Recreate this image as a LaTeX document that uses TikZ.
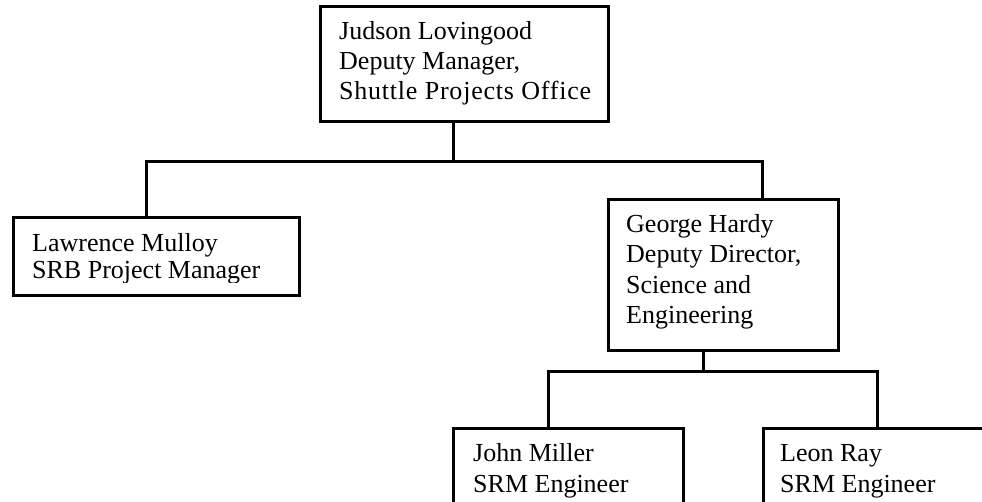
\documentclass[tikz,border=0pt]{standalone}
\usepackage{fontspec}
\setmainfont{Liberation Serif}
\begin{document}
\begin{tikzpicture}[x=1pt,y=1pt,
  box/.style={draw, line width=2.5pt, rectangle, inner sep=0pt, anchor=north west},
  lbl/.style={anchor=base west, inner sep=0pt, font=\fontsize{26}{30}\selectfont},
  conn/.style={line width=3pt}]
\useasboundingbox (0,0) rectangle (982,-501);
\clip (0,0) rectangle (982,-501);
% boxes
\node[box, minimum width=288pt, minimum height=115pt] (top) at (319,-5) {};
\node[box, minimum width=286pt, minimum height=78pt] (law) at (12,-216) {};
\node[box, minimum width=230pt, minimum height=151pt] (hardy) at (607,-198) {};
\node[box, minimum width=230pt, minimum height=120pt] (miller) at (452,-427) {};
\node[box, minimum width=260pt, minimum height=120pt] (ray) at (762,-427) {};
% texts
\node[lbl] (topA) at (339,-39) {Judson Lovingood};
\node[lbl] (topB) at (339,-69) {Deputy Manager,};
\node[lbl] (topC) at (339,-99) {\addfontfeatures{LetterSpace=3}Shuttle Projects Office};
\begin{scope}
\clip (12,-216) rectangle (298,-282);
\node[lbl] (lawA) at (32,-251) {Lawrence Mulloy};
\node[lbl] (lawB) at (32,-278) {SRB Project Manager};
\end{scope}
\node[lbl] (hardyA) at (626,-232) {George Hardy};
\node[lbl] (hardyB) at (626,-262) {Deputy Director,};
\node[lbl] (hardyC) at (626,-293) {Science and};
\node[lbl] (hardyD) at (626,-323) {Engineering};
\node[lbl] (millerA) at (473,-461) {John Miller};
\node[lbl] (millerB) at (473,-492) {SRM Engineer};
\node[lbl] (rayA) at (780,-461) {Leon Ray};
\node[lbl] (rayB) at (780,-492) {SRM Engineer};
% connectors
\coordinate (j1) at (453,-161);
\coordinate (jl) at (146,-161);
\coordinate (jr) at (762,-161);
\draw[conn] (top.south -| j1) -- (j1);
\draw[conn] (law.north -| jl) -- (jl) -- (jr) -- (hardy.north -| jr);
\coordinate (j2) at (703,-371);
\coordinate (jm) at (548,-371);
\coordinate (jn) at (877,-371);
\draw[conn] (hardy.south -| j2) -- (j2);
\draw[conn] (miller.north -| jm) -- (jm) -- (jn) -- (ray.north -| jn);
\end{tikzpicture}
\end{document}
